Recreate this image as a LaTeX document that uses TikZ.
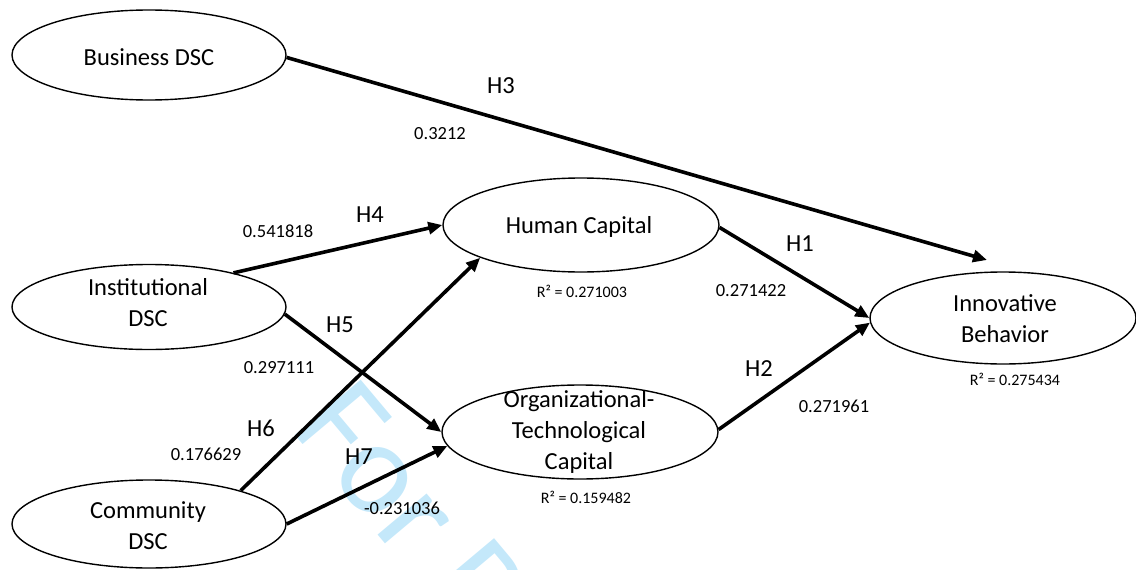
\documentclass[tikz,border=0pt]{standalone}
\usepackage{fontspec}
\setmainfont{Carlito}
\usetikzlibrary{shapes.geometric,arrows.meta}
\definecolor{wmark}{RGB}{196,232,250}
\begin{document}
\begin{tikzpicture}[x=1pt,y=-1pt,
  latent/.style={draw=black, ellipse, line width=1.4pt, inner sep=0pt},
  cname/.style={font=\fontsize{24.5}{31}\selectfont, align=center, inner sep=0pt},
  hyp/.style={font=\fontsize{24.5}{29}\selectfont, inner sep=0pt},
  coef/.style={font=\fontsize{18.5}{22}\selectfont, inner sep=0pt},
  rsq/.style={font=\fontsize{16}{19}\selectfont, inner sep=0pt},
  effect/.style={line width=3.6pt, -{Triangle[length=14pt,width=12pt]}},
  stamp/.style={font=\fontsize{134}{140}\selectfont, text=wmark, inner sep=0pt}
]
\useasboundingbox (0,0) rectangle (1136,570);

% background stamp
\begin{scope}
  \clip (0,0) rectangle (1136,570);
  \node[stamp, rotate=-50, anchor=base west] (stampText) at (289,428) {For Peer Review};
\end{scope}

% constructs
\node[latent, minimum width=274pt, minimum height=90pt] (biz)   at (149,55)  {};
\node[latent, minimum width=274pt, minimum height=85pt] (inst)  at (149,307) {};
\node[latent, minimum width=274pt, minimum height=88pt] (comm)  at (149,524) {};
\node[latent, minimum width=276pt, minimum height=94pt] (hc)    at (581,225) {};
\node[latent, minimum width=276pt, minimum height=94pt] (otc)   at (580,432) {};
\node[latent, minimum width=266pt, minimum height=92pt] (innov) at (1003,318) {};

\node[cname] (bizT)   at (149,57)  {Business DSC};
\node[cname] (instT)  at (148,303) {Institutional\\DSC};
\node[cname] (commT)  at (148,526) {Community\\DSC};
\node[cname] (hcT)    at (579,227) {Human Capital};
\node[cname] (otcT)   at (579,432) {Organizational-\\Technological\\Capital};
\node[cname] (innovT) at (1005,319) {Innovative\\Behavior};

% explained variance
\node[rsq] (hcR)    at (582,291)  {R² = 0.271003};
\node[rsq] (otcR)   at (586,497)  {R² = 0.159482};
\node[rsq] (innovR) at (1015,379) {R² = 0.275434};

% paths
\coordinate (h3tip) at (987,260);
\draw[effect] (biz.-1)    -- (h3tip);
\draw[effect] (inst.22)   -- (hc.west);
\draw[effect] (inst.-3)   -- (otc.west);
\draw[effect] (comm.20)   -- (hc.-162);
\draw[effect] (comm.east) -- (otc.186);
\draw[effect] (hc.-1)     -- (innov.west);
\draw[effect] (otc.1)     -- (innov.182);

% hypothesis labels and coefficients
\node[hyp]  (lH3) at (501,86)  {H3};
\node[coef] (cH3) at (440,134) {0.3212};
\node[hyp]  (lH4) at (370,215) {H4};
\node[coef] (cH4) at (278,231) {0.541818};
\node[hyp]  (lH5) at (340,325) {H5};
\node[coef] (cH5) at (279,368) {0.297111};
\node[hyp]  (lH6) at (261,428) {H6};
\node[coef] (cH6) at (206,454) {0.176629};
\node[hyp]  (lH7) at (359,457) {H7};
\node[coef] (cH7) at (402,508) {-0.231036};
\node[hyp]  (lH1) at (800,244) {H1};
\node[coef] (cH1) at (751,291) {0.271422};
\node[hyp]  (lH2) at (759,369) {H2};
\node[coef] (cH2) at (834,406) {0.271961};
\end{tikzpicture}
\end{document}
